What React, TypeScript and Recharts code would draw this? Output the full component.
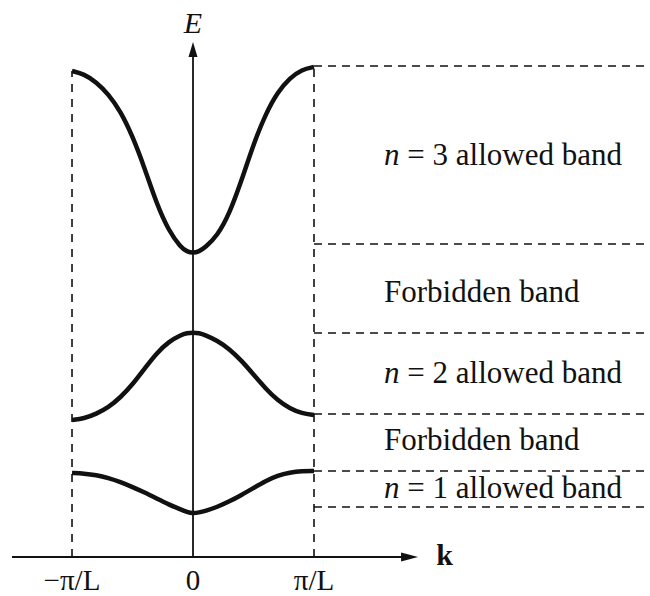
import React from 'react';
import { LineChart, Line, XAxis, YAxis, ReferenceLine, ReferenceDot } from 'recharts';

// Wave number k in units of pi/L (first Brillouin zone)
const kValues = [-1, -0.9, -0.8, -0.7, -0.6, -0.5, -0.4, -0.3, -0.2, -0.1, -0.05, 0, 0.05, 0.1, 0.2, 0.3, 0.4, 0.5, 0.6, 0.7, 0.8, 0.9, 1];

// Energy of each allowed band (arbitrary units)
const band1 = [1.68, 1.67, 1.64, 1.58, 1.5, 1.4, 1.29, 1.17, 1.05, 0.95, 0.9, 0.87, 0.89, 0.92, 1.0, 1.11, 1.24, 1.38, 1.52, 1.63, 1.69, 1.72, 1.72];
const band2 = [2.74, 2.77, 2.86, 2.99, 3.19, 3.45, 3.77, 4.08, 4.31, 4.44, 4.48, 4.49, 4.48, 4.44, 4.33, 4.16, 3.93, 3.65, 3.37, 3.13, 2.97, 2.87, 2.84];
const band3 = [9.72, 9.66, 9.5, 9.26, 8.92, 8.42, 7.78, 7.06, 6.52, 6.19, 6.11, 6.08, 6.11, 6.19, 6.42, 6.86, 7.52, 8.26, 8.86, 9.3, 9.58, 9.75, 9.8];

// Band edges drawn as dashed lines to the right of the zone
const edgeLevels = [9.82, 6.26, 4.48, 2.86, 1.72, 1.0];

// Band names and the energy at which each is written
const bandNames = ['n = 3 allowed band', 'Forbidden band', 'n = 2 allowed band', 'Forbidden band', 'n = 1 allowed band'];
const bandLabelE = [8.04, 5.3, 3.68, 2.34, 1.38];

// k-axis tick positions and labels
const tickPositions = [-1, 0, 1];
const tickLabels = ['\u2212\u03C0/L', '0', '\u03C0/L'];

const K_MIN = -1.496;
const K_MAX = 3.777;
const K_ARROW = 1.86;
const E_MAX = 10.3;
const LABEL_K = 1.579;

const FONT = '"Liberation Serif", "Times New Roman", serif';
const INK = '#111';

function KTick(props: any) {
  const { x, y, payload } = props;
  const i = tickPositions.indexOf(payload.value);
  return (
    <text x={x} y={y + 31} textAnchor="middle" fontFamily={FONT} fontSize={29} fill={INK}>
      {tickLabels[i]}
    </text>
  );
}

function BandLabel(props: any) {
  const { cx, cy, name } = props;
  const italicN = name.startsWith('n = ');
  return (
    <text x={cx} y={cy + 10} textAnchor="start" fontFamily={FONT} fontSize={31} fill={INK}>
      {italicN ? (
        <>
          <tspan fontStyle="italic">n</tspan>
          <tspan>{name.slice(1)}</tspan>
        </>
      ) : (
        name
      )}
    </text>
  );
}

function ArrowRight(props: any) {
  const { cx, cy } = props;
  return <polygon points={`${cx},${cy} ${cx - 17},${cy - 4.5} ${cx - 17},${cy + 4.5}`} fill={INK} />;
}

function ArrowUp(props: any) {
  const { cx, cy } = props;
  return <polygon points={`${cx},${cy} ${cx - 4.5},${cy + 15} ${cx + 4.5},${cy + 15}`} fill={INK} />;
}

function AxisName(props: any) {
  const { cx, cy, text, italic, bold } = props;
  return (
    <text
      x={cx}
      y={cy}
      textAnchor="middle"
      fontFamily={FONT}
      fontSize={30}
      fontStyle={italic ? 'italic' : 'normal'}
      fontWeight={bold ? 'bold' : 'normal'}
      fill={INK}
    >
      {text}
    </text>
  );
}

export default function App() {
  const data = kValues.map((k, i) => ({ k, n1: band1[i], n2: band2[i], n3: band3[i] }));
  return (
    <div style={{ position: 'absolute', left: 0, top: 0, width: 650, height: 596, background: '#fff' }}>
      <LineChart width={650} height={596} data={data} margin={{ top: 42, right: 0, bottom: 0, left: 12 }}>
        <XAxis
          dataKey="k"
          type="number"
          domain={[K_MIN, K_MAX]}
          ticks={tickPositions}
          interval={0}
          axisLine={false}
          tickLine={false}
          tickSize={0}
          height={39}
          tick={<KTick />}
          allowDataOverflow
        />
        <YAxis type="number" domain={[0, E_MAX]} hide allowDataOverflow />

        {/* zone boundaries */}
        <ReferenceLine
          segment={[{ x: -1, y: 0 }, { x: -1, y: band3[0] }]}
          stroke={INK}
          strokeWidth={1.6}
          strokeDasharray="8 7"
          ifOverflow="visible"
        />
        <ReferenceLine
          segment={[{ x: 1, y: 0 }, { x: 1, y: band3[band3.length - 1] }]}
          stroke={INK}
          strokeWidth={1.6}
          strokeDasharray="8 7"
          ifOverflow="visible"
        />

        {/* band edges */}
        {edgeLevels.map((lv, i) => (
          <ReferenceLine
            key={`edge-${i}`}
            segment={[{ x: 1, y: lv }, { x: K_MAX, y: lv }]}
            stroke={INK}
            strokeWidth={1.5}
            strokeDasharray="8 6"
            ifOverflow="visible"
          />
        ))}

        {/* axes */}
        <ReferenceLine
          segment={[{ x: K_MIN, y: 0 }, { x: K_ARROW - 0.1, y: 0 }]}
          stroke={INK}
          strokeWidth={2}
          ifOverflow="visible"
        />
        <ReferenceLine
          segment={[{ x: 0, y: 0 }, { x: 0, y: E_MAX - 0.2 }]}
          stroke={INK}
          strokeWidth={1.8}
          ifOverflow="visible"
        />
        <ReferenceDot x={K_ARROW} y={0} r={1} ifOverflow="visible" shape={<ArrowRight />} />
        <ReferenceDot x={0} y={E_MAX} r={1} ifOverflow="visible" shape={<ArrowUp />} />
        <ReferenceDot x={0} y={10.48} r={1} ifOverflow="visible" shape={<AxisName text="E" italic />} />
        <ReferenceDot x={2.08} y={-0.16} r={1} ifOverflow="visible" shape={<AxisName text="k" bold />} />

        {bandNames.map((name, i) => (
          <ReferenceDot
            key={`label-${i}`}
            x={LABEL_K}
            y={bandLabelE[i]}
            r={1}
            ifOverflow="visible"
            shape={<BandLabel name={name} />}
          />
        ))}

        <Line dataKey="n1" type="basis" stroke={INK} strokeWidth={4.5} dot={false} isAnimationActive={false} />
        <Line dataKey="n2" type="basis" stroke={INK} strokeWidth={4.5} dot={false} isAnimationActive={false} />
        <Line dataKey="n3" type="basis" stroke={INK} strokeWidth={4.5} dot={false} isAnimationActive={false} />
      </LineChart>
    </div>
  );
}
